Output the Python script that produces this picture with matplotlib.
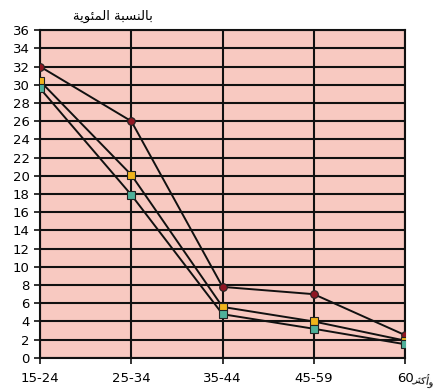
import matplotlib

matplotlib.use("Agg")
import matplotlib.pyplot as plt
import numpy as np

ages = ["15-24", "25-34", "35-44", "45-59", "60"]
series_red = [32.0, 26.0, 7.8, 7.0, 2.5]
series_yellow = [30.4, 20.1, 5.6, 4.0, 1.9]
series_teal = [29.6, 17.9, 4.8, 3.2, 1.5]
yticks = list(range(0, 37, 2))

# Arabic in presentation forms, visual order (matplotlib does no shaping)
ylabel_txt = "بالنسبة المئوية"
xlabel_txt = "وأكثر"
ylabel_vis = ("\ufe94\ufef3\ufeee\ufe8c\ufee4\ufedf\ufe8d"
              " \ufe94\ufe92\ufeb4\ufee8\ufedf\ufe8e\ufe91")
xlabel_vis = "\ufeae\ufe9c\ufedb\ufe83\ufeed"

fig = plt.figure(figsize=(4.36, 3.92), dpi=100)
ax = fig.add_axes([0.092, 0.087, 0.837, 0.836])
ax.set_facecolor("#f8c9c1")

x = np.arange(len(ages))
for vals, col, mk in [
    (series_red, "#8e1622", "o"),
    (series_yellow, "#f0b41c", "s"),
    (series_teal, "#4fb09a", "s"),
]:
    ax.plot(x, vals, color="#111111", lw=1.4, zorder=3)
    ax.plot(x, vals, linestyle="", marker=mk, markersize=5.5,
            markerfacecolor=col, markeredgecolor="#222222",
            markeredgewidth=0.8, zorder=4)

ax.set_xlim(0, len(ages) - 1)
ax.set_ylim(0, 36)
ax.set_yticks(yticks)
ax.set_xticks(x)
ax.set_xticklabels(ages)
ax.tick_params(axis="both", labelsize=9.5, direction="out", length=4,
               width=1.2, color="#111111")
ax.tick_params(axis="x", pad=6)
ax.grid(True, color="#111111", lw=1.5)
ax.set_axisbelow(False)
for s in ax.spines.values():
    s.set_color("#111111")
    s.set_linewidth(1.5)

fig.text(0.26, 0.958, ylabel_vis, ha="center", va="center", fontsize=9.5,
         family=["DejaVu Sans"])
fig.text(0.998, 0.03, xlabel_vis, ha="right", va="center", fontsize=7.5,
         rotation=-10, family=["DejaVu Sans"])

fig.savefig("out.png", dpi=100)
